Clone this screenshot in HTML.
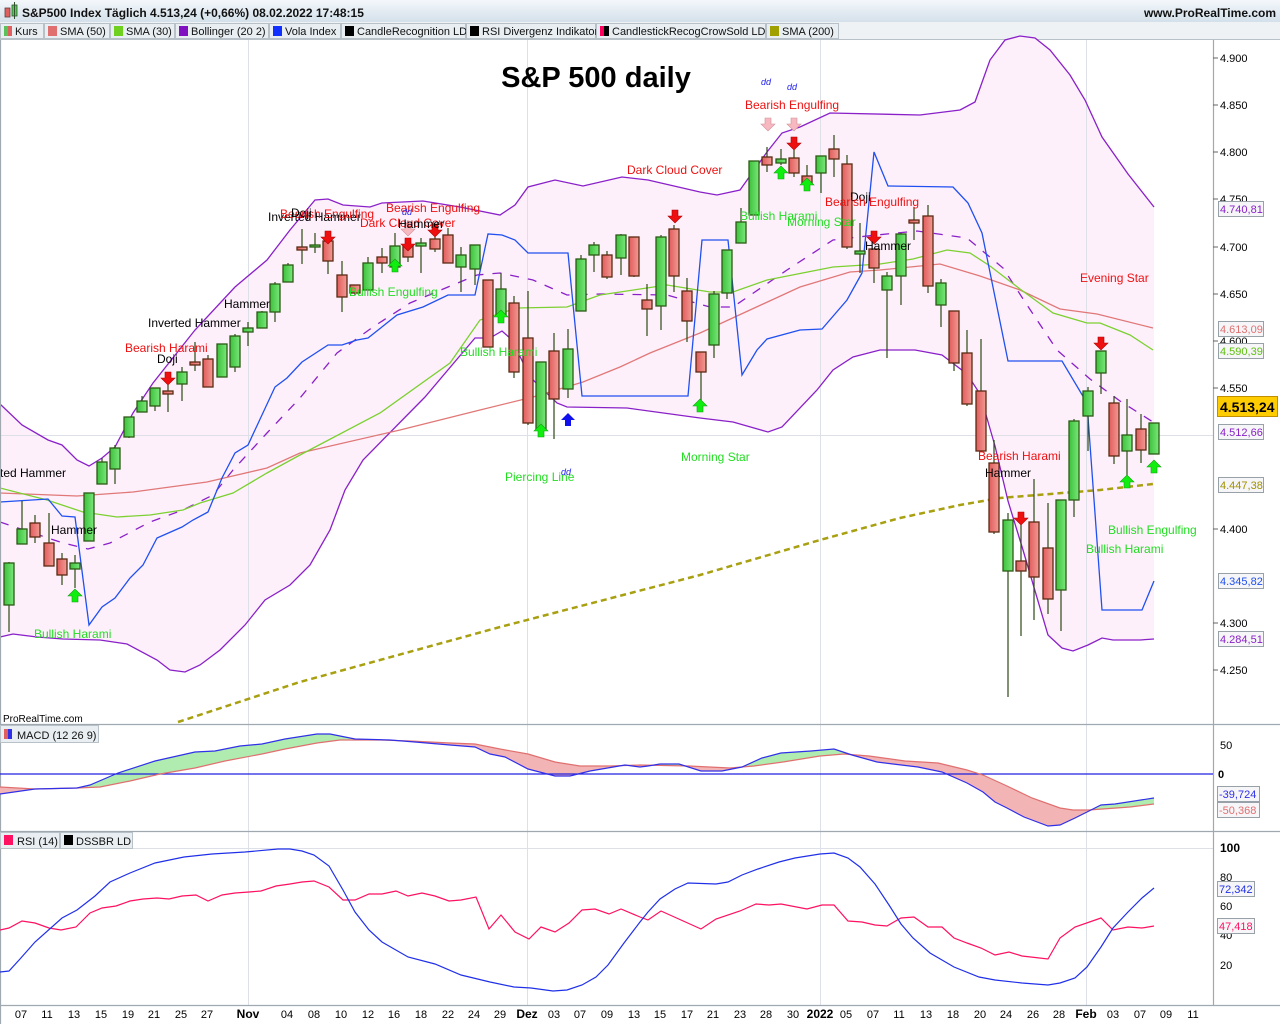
<!DOCTYPE html>
<html><head><meta charset="utf-8"><style>
body{margin:0;width:1280px;height:1024px;overflow:hidden;background:#fff;font-family:"Liberation Sans",sans-serif}
svg{position:absolute;left:0;top:0}
text{font-family:"Liberation Sans",sans-serif}
</style></head><body>
<svg width="1280" height="1024" viewBox="0 0 1280 1024" xmlns="http://www.w3.org/2000/svg">
<defs>
<linearGradient id="hd" x1="0" y1="0" x2="0" y2="1"><stop offset="0" stop-color="#f4f8fb"/><stop offset="1" stop-color="#d4e0ea"/></linearGradient>
<linearGradient id="gg" x1="0" y1="0" x2="1" y2="0"><stop offset="0" stop-color="#3cc03c"/><stop offset="1" stop-color="#7ae87a"/></linearGradient>
<linearGradient id="rg" x1="0" y1="0" x2="1" y2="0"><stop offset="0" stop-color="#e05c5c"/><stop offset="1" stop-color="#f39a94"/></linearGradient>
<clipPath id="aboveRed"><polygon points="0,726 0,787 35,789 77,788 100,787 130,781 160,774 195,768 225,761 262,754 285,749 317,743 340,740 380,740 410,741 450,743 475,744 500,749 528,754 555,762 580,766 610,766 640,765 689,766 730,768 754,766 783,762 820,756 844,754 869,756 905,761 938,763 967,770 983,775 1007,786 1032,798 1060,808 1073,810 1089,810 1130,807 1154,804 1213,804 1213,726"/></clipPath>
<clipPath id="belowRed"><polygon points="0,830 0,787 35,789 77,788 100,787 130,781 160,774 195,768 225,761 262,754 285,749 317,743 340,740 380,740 410,741 450,743 475,744 500,749 528,754 555,762 580,766 610,766 640,765 689,766 730,768 754,766 783,762 820,756 844,754 869,756 905,761 938,763 967,770 983,775 1007,786 1032,798 1060,808 1073,810 1089,810 1130,807 1154,804 1213,804 1213,830"/></clipPath>
</defs>
<!-- header -->
<rect x="0" y="0" width="1280" height="22" fill="url(#hd)"/>
<rect x="5" y="8" width="5" height="9" fill="#e06060" stroke="#604040" stroke-width="0.8"/>
<rect x="12" y="5" width="5" height="11" fill="#50d050" stroke="#305030" stroke-width="0.8"/>
<line x1="14.5" y1="2" x2="14.5" y2="19" stroke="#305030"/>
<text x="22" y="17" font-size="12" font-weight="bold" fill="#111">S&amp;P500 Index Täglich 4.513,24 (+0,66%) 08.02.2022 17:48:15</text>
<text x="1276" y="17" font-size="12" font-weight="bold" fill="#111" text-anchor="end">www.ProRealTime.com</text>
<rect x="0" y="22" width="1280" height="18" fill="#eef2f5"/>
<line x1="0" y1="39.5" x2="1280" y2="39.5" stroke="#b8c0c8"/>
<g font-size="11" fill="#111">
<rect x="0.5" y="23.5" width="43" height="15" fill="#e8eef2" stroke="#b8c0c8"/><rect x="4" y="26" width="4" height="10" fill="#5cc05c"/><rect x="8" y="26" width="4" height="10" fill="#e06060"/><text x="15" y="35">Kurs</text>
<rect x="44.5" y="23.5" width="65" height="15" fill="#e8eef2" stroke="#b8c0c8"/><rect x="48" y="26" width="9" height="10" fill="#e07070"/><text x="60" y="35">SMA (50)</text>
<rect x="110.5" y="23.5" width="64" height="15" fill="#e8eef2" stroke="#b8c0c8"/><rect x="114" y="26" width="9" height="10" fill="#70d020"/><text x="126" y="35">SMA (30)</text>
<rect x="175.5" y="23.5" width="93" height="15" fill="#e8eef2" stroke="#b8c0c8"/><rect x="179" y="26" width="9" height="10" fill="#8010c0"/><text x="191" y="35">Bollinger (20 2)</text>
<rect x="269.5" y="23.5" width="71" height="15" fill="#e8eef2" stroke="#b8c0c8"/><rect x="273" y="26" width="9" height="10" fill="#1030ff"/><text x="285" y="35">Vola Index</text>
<rect x="341.5" y="23.5" width="124" height="15" fill="#e8eef2" stroke="#b8c0c8"/><rect x="345" y="26" width="9" height="10" fill="#000"/><text x="357" y="35">CandleRecognition LD</text>
<rect x="466.5" y="23.5" width="129" height="15" fill="#e8eef2" stroke="#b8c0c8"/><rect x="470" y="26" width="9" height="10" fill="#000"/><text x="482" y="35">RSI Divergenz Indikator</text>
<rect x="596.5" y="23.5" width="169" height="15" fill="#e8eef2" stroke="#b8c0c8"/><rect x="600" y="26" width="4" height="10" fill="#ff0060"/><rect x="604" y="26" width="5" height="10" fill="#000"/><text x="612" y="35">CandlestickRecogCrowSold LD</text>
<rect x="766.5" y="23.5" width="72" height="15" fill="#e8eef2" stroke="#b8c0c8"/><rect x="770" y="26" width="9" height="10" fill="#a0a000"/><text x="782" y="35">SMA (200)</text>
</g>
<!-- main panel -->
<polygon fill="#fdf0fb" points="0,404 22,425 48,440 62,445 77,460 89,466 102,458 115,447 133,413 153,383 195,330 235,287 267,260 290,230 315,200 328,199 343,205 370,207 382,203 423,201 460,207 500,215 515,205 528,187 555,180 583,186 622,177 648,180 700,192 717,195 740,190 767,152 782,133 800,127 830,113 920,115 960,110 975,102 990,60 1005,40 1020,36 1035,38 1050,50 1070,75 1085,100 1102,137 1128,174 1154,207 1154,639 1140,640 1113,640 1102,638 1088,645 1073,651 1062,648 1048,635 1023,550 1008,501 995,446 980,394 967,374 942,355 915,350 880,350 853,357 833,370 817,390 782,427 768,432 733,422 700,418 627,408 567,407 557,403 530,377 512,340 502,331 490,338 475,338 425,397 363,460 345,490 330,530 310,565 290,585 265,600 245,625 220,650 200,665 185,672 170,670 157,660 127,644 100,640 63,639 37,637 13,634 0,637"/>
<g stroke="#dde0e6" stroke-width="1">
<line x1="248.5" y1="40" x2="248.5" y2="1005"/><line x1="527.5" y1="40" x2="527.5" y2="1005"/><line x1="820.5" y1="40" x2="820.5" y2="1005"/><line x1="1086.5" y1="40" x2="1086.5" y2="1005"/>
<line x1="0" y1="435.5" x2="1213" y2="435.5"/>
<line x1="0" y1="848.5" x2="1213" y2="848.5"/>
</g>
<text x="596" y="87" font-size="29" font-weight="bold" text-anchor="middle" fill="#000">S&amp;P 500 daily</text>
<!-- SMA200 -->
<polyline fill="none" stroke="#a8a010" stroke-width="2.5" stroke-dasharray="6,4" points="178,722 300,682 500,627 700,575 820,540 900,518 960,505 1000,498 1100,490 1153,484"/>
<!-- bollinger -->
<g fill="none" stroke="#8a20c8" stroke-width="1.3">
<polyline points="0,404 22,425 48,440 62,445 77,460 89,466 102,458 115,447 133,413 153,383 195,330 235,287 267,260 290,230 315,200 328,199 343,205 370,207 382,203 423,201 460,207 500,215 515,205 528,187 555,180 583,186 622,177 648,180 700,192 717,195 740,190 767,152 782,133 800,127 830,113 920,115 960,110 975,102 990,60 1005,40 1020,36 1035,38 1050,50 1070,75 1085,100 1102,137 1128,174 1154,207"/>
<polyline points="0,637 13,634 37,637 63,639 100,640 127,644 157,660 170,670 185,672 200,665 220,650 245,625 265,600 290,585 310,565 330,530 345,490 363,460 425,397 475,338 490,338 502,331 512,340 530,377 557,403 567,407 627,408 700,418 733,422 768,432 782,427 817,390 833,370 853,357 880,350 915,350 942,355 967,374 980,394 995,446 1008,501 1023,550 1048,635 1062,648 1073,651 1088,645 1102,638 1113,640 1140,640 1154,639"/>
<polyline stroke-dasharray="9,9" points="0,522 63,543 88,549 110,543 150,522 183,510 213,495 233,470 267,433 300,398 337,353 373,327 410,303 448,287 477,275 500,273 533,280 567,295 600,294 667,295 710,307 733,307 787,270 833,240 867,236 917,231 967,238 1003,268 1027,305 1057,350 1090,379 1120,401 1153,422"/>
</g>
<polyline fill="none" stroke="#e07878" stroke-width="1.3" points="0,493 77,496 133,492 207,482 267,468 300,453 400,430 480,410 533,397 583,382 620,367 650,353 700,333 750,310 800,287 850,272 880,270 940,264 980,276 1020,290 1060,309 1097,314 1153,328"/>
<polyline fill="none" stroke="#7cd030" stroke-width="1.3" points="0,488 47,500 83,512 117,517 150,515 183,510 200,503 233,493 267,473 300,455 380,413 450,363 480,320 517,308 567,307 600,295 667,285 710,292 733,292 767,280 833,267 880,264 913,259 947,250 970,253 990,266 1020,289 1053,313 1087,323 1100,323 1130,335 1153,350"/>
<polyline fill="none" stroke="#1f50f0" stroke-width="1.3" points="0,502 48,499 62,516 75,517 89,625 102,607 115,598 130,578 143,565 157,538 182,527 193,520 208,512 222,478 235,453 248,445 275,387 287,378 302,362 328,345 342,345 357,340 368,338 397,315 423,307 448,295 475,295 488,234 502,235 515,240 528,253 568,253 582,396 688,396 702,240 728,240 742,375 757,350 767,339 800,330 822,329 847,300 862,273 874,152 888,186 953,187 968,203 982,233 1008,361 1062,361 1087,403 1102,610 1142,610 1154,581"/>
<!-- candles -->
<g id="candles" stroke-width="1.2"></g>
<g stroke="#2c4a14" stroke-width="1.2">
<line x1="9" y1="562" x2="9" y2="632"/><line x1="22" y1="501" x2="22" y2="544"/><line x1="35" y1="515" x2="35" y2="543"/><line x1="49" y1="513" x2="49" y2="566"/><line x1="62" y1="553" x2="62" y2="585"/><line x1="75" y1="555" x2="75" y2="588"/><line x1="89" y1="493" x2="89" y2="541"/><line x1="102" y1="458" x2="102" y2="484"/><line x1="115" y1="445" x2="115" y2="484"/><line x1="129" y1="417" x2="129" y2="438"/><line x1="142" y1="396" x2="142" y2="412"/><line x1="155" y1="388" x2="155" y2="411"/><line x1="168" y1="385" x2="168" y2="412"/><line x1="182" y1="367" x2="182" y2="401"/><line x1="195" y1="342" x2="195" y2="371"/><line x1="208" y1="355" x2="208" y2="387"/><line x1="222" y1="344" x2="222" y2="377"/><line x1="235" y1="334" x2="235" y2="372"/><line x1="248" y1="322" x2="248" y2="346"/><line x1="262" y1="311" x2="262" y2="328"/><line x1="275" y1="282" x2="275" y2="322"/><line x1="288" y1="263" x2="288" y2="282"/><line x1="302" y1="229" x2="302" y2="264"/><line x1="315" y1="233" x2="315" y2="253"/><line x1="328" y1="232" x2="328" y2="274"/><line x1="342" y1="261" x2="342" y2="312"/><line x1="355" y1="285" x2="355" y2="295"/><line x1="368" y1="257" x2="368" y2="290"/><line x1="382" y1="248" x2="382" y2="273"/><line x1="395" y1="233" x2="395" y2="267"/><line x1="408" y1="244" x2="408" y2="262"/><line x1="421" y1="238" x2="421" y2="273"/><line x1="435" y1="237" x2="435" y2="252"/><line x1="448" y1="228" x2="448" y2="263"/><line x1="461" y1="247" x2="461" y2="292"/><line x1="475" y1="245" x2="475" y2="285"/><line x1="488" y1="280" x2="488" y2="347"/><line x1="501" y1="273" x2="501" y2="315"/><line x1="514" y1="296" x2="514" y2="378"/><line x1="528" y1="291" x2="528" y2="425"/><line x1="541" y1="362" x2="541" y2="432"/><line x1="554" y1="333" x2="554" y2="439"/><line x1="568" y1="329" x2="568" y2="398"/><line x1="581" y1="255" x2="581" y2="311"/><line x1="594" y1="242" x2="594" y2="272"/><line x1="607" y1="251" x2="607" y2="279"/><line x1="621" y1="234" x2="621" y2="275"/><line x1="634" y1="237" x2="634" y2="277"/><line x1="647" y1="284" x2="647" y2="336"/><line x1="661" y1="235" x2="661" y2="330"/><line x1="674" y1="225" x2="674" y2="292"/><line x1="687" y1="278" x2="687" y2="342"/><line x1="701" y1="352" x2="701" y2="402"/><line x1="714" y1="291" x2="714" y2="358"/><line x1="727" y1="250" x2="727" y2="299"/><line x1="741" y1="208" x2="741" y2="243"/><line x1="754" y1="161" x2="754" y2="215"/><line x1="767" y1="147" x2="767" y2="172"/><line x1="781" y1="149" x2="781" y2="165"/><line x1="794" y1="150" x2="794" y2="177"/><line x1="807" y1="165" x2="807" y2="185"/><line x1="821" y1="156" x2="821" y2="193"/><line x1="834" y1="135" x2="834" y2="177"/><line x1="847" y1="155" x2="847" y2="249"/><line x1="860" y1="223" x2="860" y2="273"/><line x1="874" y1="249" x2="874" y2="283"/><line x1="887" y1="272" x2="887" y2="358"/><line x1="901" y1="233" x2="901" y2="305"/><line x1="914" y1="207" x2="914" y2="240"/><line x1="928" y1="205" x2="928" y2="293"/><line x1="941" y1="279" x2="941" y2="327"/><line x1="954" y1="311" x2="954" y2="371"/><line x1="967" y1="330" x2="967" y2="406"/><line x1="981" y1="339" x2="981" y2="451"/><line x1="994" y1="440" x2="994" y2="534"/><line x1="1008" y1="513" x2="1008" y2="697"/><line x1="1021" y1="520" x2="1021" y2="636"/><line x1="1034" y1="479" x2="1034" y2="620"/><line x1="1048" y1="503" x2="1048" y2="614"/><line x1="1061" y1="500" x2="1061" y2="631"/><line x1="1074" y1="419" x2="1074" y2="517"/><line x1="1088" y1="387" x2="1088" y2="451"/><line x1="1101" y1="351" x2="1101" y2="394"/><line x1="1114" y1="396" x2="1114" y2="464"/><line x1="1127" y1="399" x2="1127" y2="487"/><line x1="1141" y1="414" x2="1141" y2="463"/><line x1="1154" y1="423" x2="1154" y2="454"/>
</g>
<g stroke="#2c5a14" stroke-width="1.3" fill="url(#gg)">
<rect x="4" y="563" width="10" height="42"/><rect x="17" y="529" width="10" height="15"/><rect x="70" y="563" width="10" height="6"/><rect x="84" y="493" width="10" height="48"/><rect x="97" y="462" width="10" height="22"/><rect x="110" y="448" width="10" height="21"/><rect x="124" y="417" width="10" height="20"/><rect x="137" y="401" width="10" height="11"/><rect x="150" y="388" width="10" height="18"/><rect x="177" y="372" width="10" height="12"/><rect x="217" y="344" width="10" height="33"/><rect x="230" y="336" width="10" height="31"/><rect x="243" y="328" width="10" height="4"/><rect x="257" y="312" width="10" height="16"/><rect x="270" y="284" width="10" height="28"/><rect x="283" y="265" width="10" height="17"/><rect x="310" y="245" width="10" height="2"/><rect x="363" y="263" width="10" height="27"/><rect x="390" y="246" width="10" height="21"/><rect x="416" y="243" width="10" height="3"/><rect x="456" y="255" width="10" height="12"/><rect x="470" y="245" width="10" height="24"/><rect x="496" y="289" width="10" height="26"/><rect x="536" y="362" width="10" height="68"/><rect x="563" y="349" width="10" height="40"/><rect x="576" y="259" width="10" height="52"/><rect x="589" y="245" width="10" height="10"/><rect x="616" y="235" width="10" height="23"/><rect x="656" y="237" width="10" height="69"/><rect x="709" y="294" width="10" height="51"/><rect x="722" y="250" width="10" height="43"/><rect x="736" y="222" width="10" height="21"/><rect x="749" y="161" width="10" height="54"/><rect x="776" y="159" width="10" height="4"/><rect x="816" y="156" width="10" height="17"/><rect x="855" y="251" width="10" height="3"/><rect x="882" y="276" width="10" height="14"/><rect x="896" y="234" width="10" height="42"/><rect x="936" y="283" width="10" height="22"/><rect x="1003" y="520" width="10" height="51"/><rect x="1056" y="500" width="10" height="90"/><rect x="1069" y="421" width="10" height="79"/><rect x="1083" y="391" width="10" height="25"/><rect x="1096" y="351" width="10" height="22"/><rect x="1122" y="435" width="10" height="16"/><rect x="1149" y="423" width="10" height="31"/>
</g>
<g stroke="#5a2a12" stroke-width="1.3" fill="url(#rg)">
<rect x="30" y="523" width="10" height="14"/><rect x="44" y="543" width="10" height="23"/><rect x="57" y="559" width="10" height="16"/><rect x="163" y="391" width="10" height="3"/><rect x="190" y="362" width="10" height="3"/><rect x="203" y="359" width="10" height="28"/><rect x="297" y="247" width="10" height="3"/><rect x="323" y="241" width="10" height="20"/><rect x="337" y="275" width="10" height="22"/><rect x="350" y="285" width="10" height="8"/><rect x="377" y="257" width="10" height="6"/><rect x="403" y="246" width="10" height="11"/><rect x="430" y="239" width="10" height="10"/><rect x="443" y="235" width="10" height="28"/><rect x="483" y="280" width="10" height="67"/><rect x="509" y="303" width="10" height="69"/><rect x="523" y="338" width="10" height="85"/><rect x="549" y="351" width="10" height="48"/><rect x="602" y="255" width="10" height="22"/><rect x="629" y="237" width="10" height="39"/><rect x="642" y="300" width="10" height="9"/><rect x="669" y="229" width="10" height="47"/><rect x="682" y="291" width="10" height="30"/><rect x="696" y="352" width="10" height="20"/><rect x="762" y="157" width="10" height="8"/><rect x="789" y="158" width="10" height="15"/><rect x="802" y="176" width="10" height="7"/><rect x="829" y="149" width="10" height="10"/><rect x="842" y="164" width="10" height="83"/><rect x="869" y="249" width="10" height="19"/><rect x="909" y="220" width="10" height="3"/><rect x="923" y="216" width="10" height="70"/><rect x="949" y="311" width="10" height="52"/><rect x="962" y="353" width="10" height="51"/><rect x="976" y="391" width="10" height="60"/><rect x="989" y="463" width="10" height="69"/><rect x="1016" y="561" width="10" height="10"/><rect x="1029" y="522" width="10" height="55"/><rect x="1043" y="548" width="10" height="51"/><rect x="1109" y="403" width="10" height="53"/><rect x="1136" y="429" width="10" height="21"/>
</g>
<!-- arrows -->
<defs>
<path id="dn" d="M-3,-7 h6 v6 h4 l-7,7 l-7,-7 h4 z"/>
<path id="up" d="M-3,7 h6 v-6 h4 l-7,-7 l-7,7 h4 z"/>
</defs>
<g fill="#ee1010" stroke="#b00000" stroke-width="0.6">
<use href="#dn" x="168" y="379"/><use href="#dn" x="328" y="238"/><use href="#dn" x="408" y="245"/><use href="#dn" x="435" y="231"/><use href="#dn" x="675" y="217"/><use href="#dn" x="794" y="144"/><use href="#dn" x="874" y="238"/><use href="#dn" x="1021" y="519"/><use href="#dn" x="1101" y="344"/>
</g>
<g fill="#f8b8c0" stroke="#d09098" stroke-width="0.6">
<use href="#dn" x="768" y="125"/><use href="#dn" x="794" y="125"/><use href="#dn" x="408" y="230"/>
</g>
<g fill="#10ee10" stroke="#10a010" stroke-width="0.6">
<use href="#up" x="75" y="595"/><use href="#up" x="395" y="265"/><use href="#up" x="501" y="316"/><use href="#up" x="541" y="430"/><use href="#up" x="700" y="405"/><use href="#up" x="781" y="172"/><use href="#up" x="807" y="184"/><use href="#up" x="1127" y="481"/><use href="#up" x="1154" y="466"/>
</g>
<use href="#up" x="568" y="419" fill="#1010ee"/>
<!-- labels -->
<g font-size="12">
<text x="0" y="477" fill="#000">ted Hammer</text>
<text x="51" y="534" fill="#000">Hammer</text>
<text x="34" y="638" fill="#22dd22">Bullish Harami</text>
<text x="125" y="352" fill="#ee1111">Bearish Harami</text>
<text x="157" y="363" fill="#000">Doji</text>
<text x="148" y="327" fill="#000">Inverted Hammer</text>
<text x="224" y="308" fill="#000">Hammer</text>
<text x="268" y="221" fill="#000">Inverted Hammer</text>
<text x="280" y="218" fill="#ee1111">Bearish Engulfing</text>
<text x="291" y="217" fill="#000">Doji</text>
<text x="386" y="212" fill="#ee1111">Bearish Engulfing</text>
<text x="360" y="227" fill="#ee1111">Dark Cloud Cover</text>
<text x="398" y="228" fill="#000">Hammer</text>
<text x="349" y="296" fill="#22dd22">Bullish Engulfing</text>
<text x="460" y="356" fill="#22dd22">Bullish Harami</text>
<text x="505" y="481" fill="#22dd22">Piercing Line</text>
<text x="681" y="461" fill="#22dd22">Morning Star</text>
<text x="627" y="174" fill="#ee1111">Dark Cloud Cover</text>
<text x="745" y="109" fill="#ee1111">Bearish Engulfing</text>
<text x="740" y="220" fill="#22dd22">Bullish Harami</text>
<text x="787" y="226" fill="#22dd22">Morning Star</text>
<text x="850" y="201" fill="#000">Doji</text>
<text x="825" y="206" fill="#ee1111">Bearish Engulfing</text>
<text x="865" y="250" fill="#000">Hammer</text>
<text x="1080" y="282" fill="#ee1111">Evening Star</text>
<text x="978" y="460" fill="#ee1111">Bearish Harami</text>
<text x="985" y="477" fill="#000">Hammer</text>
<text x="1108" y="534" fill="#22dd22">Bullish Engulfing</text>
<text x="1086" y="553" fill="#22dd22">Bullish Harami</text>
</g>
<g font-size="9" font-style="italic" fill="#2020ee">
<text x="402" y="215">dd</text><text x="561" y="475">dd</text><text x="761" y="85">dd</text><text x="787" y="90">dd</text>
</g>
<text x="3" y="722" font-size="10" fill="#000">ProRealTime.com</text>
<!-- panel separators -->
<g stroke="#a0a8b0" stroke-width="1.2">
<line x1="0" y1="724.5" x2="1280" y2="724.5"/><line x1="0" y1="831.5" x2="1280" y2="831.5"/><line x1="0" y1="1005.5" x2="1280" y2="1005.5"/>
<line x1="1213.5" y1="40" x2="1213.5" y2="1005"/>
<line x1="0.5" y1="40" x2="0.5" y2="1024"/>
</g>
<!-- right axis main -->
<g font-size="11" fill="#000" stroke="none">
<text x="1220" y="62">4.900</text><text x="1220" y="109">4.850</text><text x="1220" y="156">4.800</text><text x="1220" y="203">4.750</text><text x="1220" y="251">4.700</text><text x="1220" y="298">4.650</text><text x="1220" y="345">4.600</text><text x="1220" y="392">4.550</text><text x="1220" y="533">4.400</text><text x="1220" y="627">4.300</text><text x="1220" y="674">4.250</text>
</g>
<g stroke="#666"><line x1="1213" y1="58" x2="1218" y2="58"/><line x1="1213" y1="105" x2="1218" y2="105"/><line x1="1213" y1="152" x2="1218" y2="152"/><line x1="1213" y1="199" x2="1218" y2="199"/><line x1="1213" y1="247" x2="1218" y2="247"/><line x1="1213" y1="294" x2="1218" y2="294"/><line x1="1213" y1="341" x2="1218" y2="341"/><line x1="1213" y1="388" x2="1218" y2="388"/><line x1="1213" y1="529" x2="1218" y2="529"/><line x1="1213" y1="623" x2="1218" y2="623"/><line x1="1213" y1="670" x2="1218" y2="670"/></g>
<g font-size="11">
<rect x="1218.5" y="201.5" width="45" height="15" fill="#f6f6f8" stroke="#98a0a8"/><text x="1220" y="213" fill="#8a20c8">4.740,81</text>
<rect x="1218.5" y="321.5" width="45" height="15" fill="#f6f6f8" stroke="#98a0a8"/><text x="1220" y="333" fill="#e07070">4.613,09</text>
<rect x="1218.5" y="343.5" width="45" height="15" fill="#f6f6f8" stroke="#98a0a8"/><text x="1220" y="355" fill="#60c010">4.590,39</text>
<rect x="1217.5" y="396.5" width="60" height="20" fill="#ffcc00" stroke="#c09000"/><text x="1220" y="412" fill="#000" font-size="14" font-weight="bold">4.513,24</text>
<rect x="1218.5" y="424.5" width="45" height="15" fill="#f6f6f8" stroke="#98a0a8"/><text x="1220" y="436" fill="#8a20c8">4.512,66</text>
<rect x="1218.5" y="477.5" width="45" height="15" fill="#f6f6f8" stroke="#98a0a8"/><text x="1220" y="489" fill="#a09000">4.447,38</text>
<rect x="1218.5" y="573.5" width="45" height="15" fill="#f6f6f8" stroke="#98a0a8"/><text x="1220" y="585" fill="#1f50f0">4.345,82</text>
<rect x="1218.5" y="631.5" width="45" height="15" fill="#f6f6f8" stroke="#98a0a8"/><text x="1220" y="643" fill="#8a20c8">4.284,51</text>
</g>
<!-- MACD -->
<polygon clip-path="url(#aboveRed)" fill="#b0ecb0" points="0,794 35,789 77,788 90,785 118,773 155,761 195,752 215,751 240,746 262,744 285,739 317,734 330,734 355,739 390,740 415,742 450,745 475,747 490,754 505,757 528,769 555,776 570,776 590,771 625,765 640,767 648,766 660,764 679,764 701,771 722,771 742,767 762,758 781,753 811,751 834,749 852,755 877,762 893,764 918,767 942,772 967,783 983,792 995,802 1007,808 1024,817 1048,826 1060,825 1075,818 1089,811 1101,805 1115,804 1154,798 1154,804 1130,807 1089,810 1073,810 1060,808 1032,798 1007,786 983,775 967,770 938,763 905,761 869,756 844,754 820,756 783,762 754,766 730,768 689,766 640,765 610,766 580,766 555,762 528,754 500,749 475,744 450,743 410,741 380,740 340,740 317,743 285,749 262,754 225,761 195,768 160,774 130,781 100,787 77,788 35,789 0,787"/>
<polygon clip-path="url(#belowRed)" fill="#f2b4b4" points="0,794 35,789 77,788 90,785 118,773 155,761 195,752 215,751 240,746 262,744 285,739 317,734 330,734 355,739 390,740 415,742 450,745 475,747 490,754 505,757 528,769 555,776 570,776 590,771 625,765 640,767 648,766 660,764 679,764 701,771 722,771 742,767 762,758 781,753 811,751 834,749 852,755 877,762 893,764 918,767 942,772 967,783 983,792 995,802 1007,808 1024,817 1048,826 1060,825 1075,818 1089,811 1101,805 1115,804 1154,798 1154,804 1130,807 1089,810 1073,810 1060,808 1032,798 1007,786 983,775 967,770 938,763 905,761 869,756 844,754 820,756 783,762 754,766 730,768 689,766 640,765 610,766 580,766 555,762 528,754 500,749 475,744 450,743 410,741 380,740 340,740 317,743 285,749 262,754 225,761 195,768 160,774 130,781 100,787 77,788 35,789 0,787"/>
<line x1="0" y1="774" x2="1213" y2="774" stroke="#2020e0" stroke-width="1.3"/>
<polyline fill="none" stroke="#e07070" stroke-width="1.2" points="0,787 35,789 77,788 100,787 130,781 160,774 195,768 225,761 262,754 285,749 317,743 340,740 380,740 410,741 450,743 475,744 500,749 528,754 555,762 580,766 610,766 640,765 689,766 730,768 754,766 783,762 820,756 844,754 869,756 905,761 938,763 967,770 983,775 1007,786 1032,798 1060,808 1073,810 1089,810 1130,807 1154,804"/>
<polyline fill="none" stroke="#3030e8" stroke-width="1.2" points="0,794 35,789 77,788 90,785 118,773 155,761 195,752 215,751 240,746 262,744 285,739 317,734 330,734 355,739 390,740 415,742 450,745 475,747 490,754 505,757 528,769 555,776 570,776 590,771 625,765 640,767 648,766 660,764 679,764 701,771 722,771 742,767 762,758 781,753 811,751 834,749 852,755 877,762 893,764 918,767 942,772 967,783 983,792 995,802 1007,808 1024,817 1048,826 1060,825 1075,818 1089,811 1101,805 1115,804 1154,798"/>
<rect x="0.5" y="725.5" width="98" height="17" fill="#e8eef2" stroke="#b8c0c8"/>
<rect x="4" y="729" width="4" height="10" fill="#e06060"/><rect x="8" y="729" width="4" height="10" fill="#3030e8"/>
<text x="17" y="739" font-size="11" fill="#111">MACD (12 26 9)</text>
<g font-size="11"><text x="1220" y="749" fill="#000">50</text><text x="1218" y="778" fill="#000" font-weight="bold">0</text>
<rect x="1217.5" y="786.5" width="42" height="15" fill="#f6f6f8" stroke="#98a0a8"/><text x="1219" y="798" fill="#3030e8">-39,724</text>
<rect x="1217.5" y="802.5" width="42" height="15" fill="#f6f6f8" stroke="#98a0a8"/><text x="1219" y="814" fill="#e07070">-50,368</text></g>
<!-- RSI -->
<polyline fill="none" stroke="#ff1060" stroke-width="1.2" points="0,930 9,928 22,921 35,923 49,928 61,930 76,927 90,913 102,908 116,906 130,901 143,899 157,898 169,899 182,896 196,895 208,901 222,895 235,893 249,892 261,891 276,886 290,884 302,882 314,881 329,887 343,900 355,900 369,894 382,894 396,891 408,896 422,893 435,896 449,901 461,900 476,897 489,929 501,915 515,932 529,939 541,927 555,932 569,923 582,910 595,909 609,914 621,909 640,917 648,920 661,911 681,920 701,929 716,919 740,911 756,904 769,905 781,904 807,909 822,905 834,905 848,921 862,922 875,925 887,926 901,918 914,917 928,927 942,927 954,938 967,943 981,948 995,955 1009,952 1022,956 1048,959 1060,938 1075,927 1101,918 1113,930 1128,927 1142,928 1154,926"/>
<polyline fill="none" stroke="#2030e8" stroke-width="1.2" points="0,972 9,971 20,959 35,942 62,918 77,910 95,896 110,882 130,873 155,863 184,857 212,854 245,852 278,849 290,849 302,851 314,855 329,866 343,890 355,912 369,930 382,942 408,957 435,964 461,975 490,982 514,987 531,988 553,991 567,990 582,985 596,977 608,965 624,943 640,922 648,912 660,899 675,889 688,883 716,884 728,882 742,875 758,869 779,862 795,858 820,854 834,853 848,858 860,867 875,884 889,905 901,924 913,938 930,953 954,967 979,977 995,980 1022,983 1048,985 1060,983 1075,978 1087,967 1101,947 1113,928 1128,912 1142,898 1154,888"/>
<rect x="0.5" y="832.5" width="59" height="16" fill="#e8eef2" stroke="#b8c0c8"/><rect x="4" y="835" width="9" height="10" fill="#ff1060"/><text x="17" y="845" font-size="11" fill="#111">RSI (14)</text>
<rect x="60.5" y="832.5" width="72" height="16" fill="#e8eef2" stroke="#b8c0c8"/><rect x="64" y="835" width="9" height="10" fill="#000"/><text x="76" y="845" font-size="11" fill="#111">DSSBR LD</text>
<g font-size="11" fill="#000"><text x="1220" y="852" font-weight="bold" font-size="12">100</text><text x="1220" y="881">80</text><text x="1220" y="910">60</text><text x="1220" y="939">40</text><text x="1220" y="969">20</text>
<rect x="1217.5" y="881.5" width="37" height="15" fill="#f6f6f8" stroke="#98a0a8"/><text x="1219" y="893" fill="#2030e8">72,342</text>
<rect x="1217.5" y="918.5" width="37" height="15" fill="#f6f6f8" stroke="#98a0a8"/><text x="1219" y="930" fill="#ff1060">47,418</text></g>
<!-- x axis -->
<g font-size="11" fill="#000" text-anchor="middle">
<text x="21" y="1018">07</text><text x="47" y="1018">11</text><text x="74" y="1018">13</text><text x="101" y="1018">15</text><text x="128" y="1018">19</text><text x="154" y="1018">21</text><text x="181" y="1018">25</text><text x="207" y="1018">27</text><text x="248" y="1018" font-weight="bold" font-size="12">Nov</text><text x="287" y="1018">04</text><text x="314" y="1018">08</text><text x="341" y="1018">10</text><text x="368" y="1018">12</text><text x="394" y="1018">16</text><text x="421" y="1018">18</text><text x="448" y="1018">22</text><text x="474" y="1018">24</text><text x="500" y="1018">29</text><text x="527" y="1018" font-weight="bold" font-size="12">Dez</text><text x="554" y="1018">03</text><text x="580" y="1018">07</text><text x="607" y="1018">09</text><text x="634" y="1018">13</text><text x="660" y="1018">15</text><text x="687" y="1018">17</text><text x="713" y="1018">21</text><text x="740" y="1018">23</text><text x="766" y="1018">28</text><text x="793" y="1018">30</text><text x="820" y="1018" font-weight="bold" font-size="12">2022</text><text x="846" y="1018">05</text><text x="873" y="1018">07</text><text x="899" y="1018">11</text><text x="926" y="1018">13</text><text x="953" y="1018">18</text><text x="980" y="1018">20</text><text x="1006" y="1018">24</text><text x="1033" y="1018">26</text><text x="1059" y="1018">28</text><text x="1086" y="1018" font-weight="bold" font-size="12">Feb</text><text x="1113" y="1018">03</text><text x="1140" y="1018">07</text><text x="1166" y="1018">09</text><text x="1193" y="1018">11</text>
</g>
</svg>
</body></html>
